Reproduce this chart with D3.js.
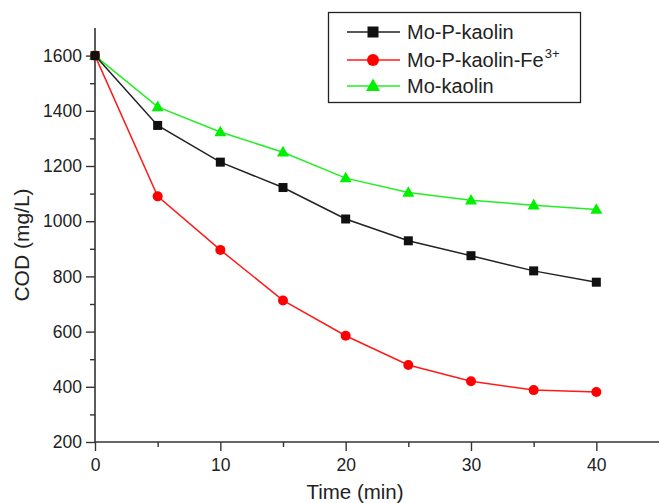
<!DOCTYPE html>
<html>
<head>
<meta charset="utf-8">
<script src="https://cdn.jsdelivr.net/npm/d3@7"></script>
<style>
  html, body { margin: 0; padding: 0; background: #fff; }
  svg { display: block; font-family: "Liberation Sans", Arial, sans-serif; }
</style>
</head>
<body>
<svg id="chart" width="660" height="503"></svg>
<script>
const times = [0, 5, 10, 15, 20, 25, 30, 35, 40];
const moPKaolin = [1600, 1347, 1214, 1122, 1008, 929, 875, 820, 779];
const moPKaolinFe = [1600, 1090, 896, 713, 585, 479, 420, 388, 381];
const moKaolin = [1600, 1414, 1323, 1250, 1156, 1104, 1076, 1058, 1042];
const seriesNames = ["Mo-P-kaolin", "Mo-P-kaolin-Fe", "Mo-kaolin"];
const xTicks = [0, 10, 20, 30, 40];
const yTicks = [200, 400, 600, 800, 1000, 1200, 1400, 1600];

const svg = d3.select("#chart");
const mLeft = 95, mRight = 659, mTop = 28, mBottom = 442;
const x = d3.scaleLinear().domain([0, 45]).range([mLeft, mRight]);
const y = d3.scaleLinear().domain([200, 1700]).range([mBottom, mTop]);

const axisColor = "#333";
const textColor = "#222";

// Y axis
const yAxis = svg.append("g").attr("transform", `translate(${mLeft},0)`)
  .call(d3.axisLeft(y).tickValues(yTicks).tickSize(9).tickPadding(4).tickFormat(d3.format("d")));
svg.append("g").attr("transform", `translate(${mLeft},0)`)
  .call(d3.axisLeft(y).tickValues(d3.range(300, 1700, 200)).tickSize(5).tickFormat(""))
  .call(g => g.select(".domain").remove());
// X axis
const xAxis = svg.append("g").attr("transform", `translate(0,${mBottom})`)
  .call(d3.axisBottom(x).tickValues(xTicks).tickSize(9).tickPadding(8).tickFormat(d3.format("d")));
svg.append("g").attr("transform", `translate(0,${mBottom})`)
  .call(d3.axisBottom(x).tickValues([5, 15, 25, 35]).tickSize(5).tickFormat(""))
  .call(g => g.select(".domain").remove());

svg.selectAll(".domain").attr("stroke", axisColor).attr("stroke-width", 1.6);
svg.selectAll(".tick line").attr("stroke", axisColor).attr("stroke-width", 1.4);
svg.selectAll(".tick text").attr("fill", textColor).attr("font-size", 17.5)
  .attr("font-family", "Liberation Sans, Arial, sans-serif");
yAxis.select(".domain").attr("d", `M0,${mTop}V${mBottom}`);
xAxis.select(".domain").attr("d", `M${mLeft},0H${mRight}`);

// Axis titles
svg.append("text").attr("x", 355).attr("y", 499).attr("text-anchor", "middle")
  .attr("font-size", 20.5).attr("fill", textColor).text("Time (min)");
svg.append("text").attr("transform", "translate(29,245) rotate(-90)").attr("text-anchor", "middle")
  .attr("font-size", 21).attr("fill", textColor).text("COD (mg/L)");

const series = [
  { name: seriesNames[0], values: moPKaolin, color: "#111", line: "#222", shape: "square" },
  { name: seriesNames[1], values: moPKaolinFe, color: "#ff0000", line: "#ff1a1a", shape: "circle" },
  { name: seriesNames[2], values: moKaolin, color: "#00f000", line: "#22ee22", shape: "triangle" }
];

const line = d3.line().x((d, i) => x(times[i])).y(d => y(d));

function marker(g, shape, cx, cy, color, s) {
  if (shape === "square") {
    g.append("rect").attr("x", cx - s / 2).attr("y", cy - s / 2).attr("width", s).attr("height", s)
      .attr("fill", color);
  } else if (shape === "circle") {
    g.append("circle").attr("cx", cx).attr("cy", cy).attr("r", s / 2).attr("fill", color);
  } else {
    const h = s * 0.88;
    g.append("path").attr("d", `M${cx},${cy - h * 0.6}L${cx + s / 2},${cy + h * 0.4}L${cx - s / 2},${cy + h * 0.4}Z`)
      .attr("fill", color);
  }
}

series.slice().reverse().forEach(s => {
  svg.append("path").datum(s.values).attr("d", line).attr("fill", "none")
    .attr("stroke", s.line).attr("stroke-width", 1.5);
});
series.slice().reverse().forEach(s => {
  const g = svg.append("g");
  s.values.forEach((v, i) => {
    const size = s.shape === "square" ? 9 : (s.shape === "circle" ? 10 : 12);
    marker(g, s.shape, x(times[i]), y(v), s.color, size);
  });
});

// Legend
const lg = svg.append("g");
lg.append("rect").attr("x", 328.5).attr("y", 12.5).attr("width", 252).attr("height", 90)
  .attr("fill", "#fff").attr("stroke", "#222").attr("stroke-width", 1.3);
const rowsY = [32, 60, 86];
series.forEach((s, i) => {
  const yy = rowsY[i];
  lg.append("line").attr("x1", 347).attr("x2", 400).attr("y1", yy).attr("y2", yy)
    .attr("stroke", s.line).attr("stroke-width", 1.5);
  const size = s.shape === "square" ? 11 : (s.shape === "circle" ? 12 : 14);
  marker(lg, s.shape, 373, yy, s.color, size);
  const t = lg.append("text").attr("x", 407).attr("y", yy + 7).attr("font-size", 20).attr("fill", textColor);
  t.append("tspan").text(s.name);
  if (i === 1) {
    t.append("tspan").attr("font-size", 13).attr("dx", 1).attr("dy", -9).text("3+");
  }
});
</script>
</body>
</html>
